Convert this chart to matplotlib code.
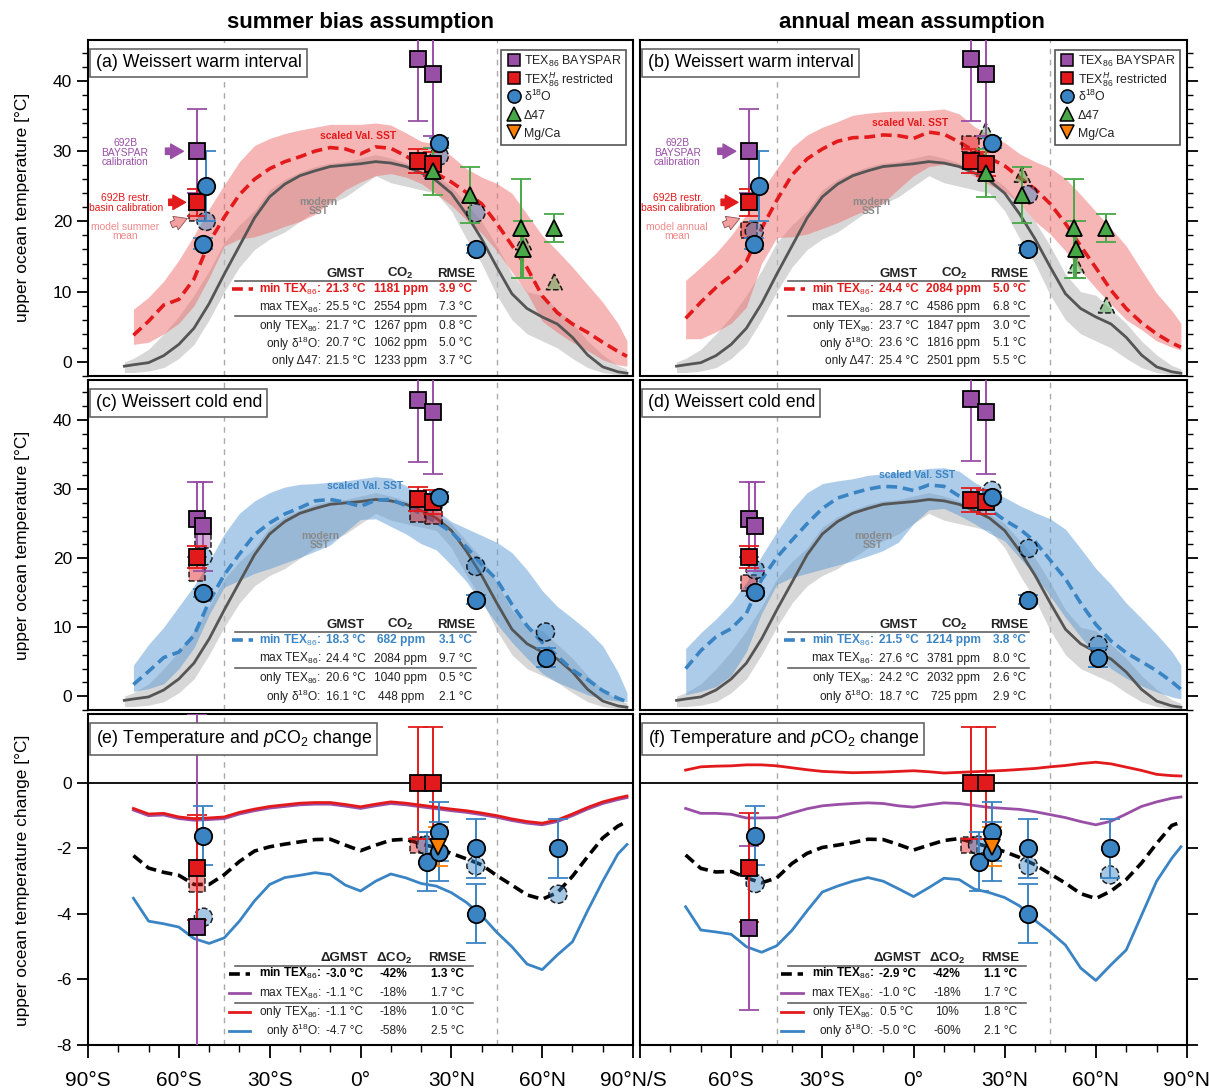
import numpy as np
import matplotlib
matplotlib.use('Agg')
import matplotlib.pyplot as plt
from matplotlib.patches import Rectangle
from matplotlib.ticker import MultipleLocator
from matplotlib.colors import to_rgba

plt.rcParams['font.family'] = ['Liberation Sans', 'DejaVu Sans']
plt.rcParams['mathtext.fontset'] = 'custom'
plt.rcParams['mathtext.rm'] = 'Liberation Sans'
plt.rcParams['mathtext.it'] = 'Liberation Sans:italic'
plt.rcParams['mathtext.bf'] = 'Liberation Sans:bold'
plt.rcParams['axes.unicode_minus'] = False

# ---------------- data ----------------
# modern SST (line and range), same in panels a-d
lat_mod = [-78, -75, -70, -65, -60, -55, -50, -45, -40, -35, -30, -25, -20, -15, -10, -5, 0,
           5, 10, 15, 20, 25, 30, 35, 40, 45, 50, 55, 60, 65, 70, 75, 80, 85, 88]
modern_sst = [-0.6, -0.4, -0.1, 0.9, 2.5, 4.8, 8.3, 12.5, 16.5, 20.5, 23.5, 25.3, 26.5, 27.2, 27.8, 28.0, 28.2,
              28.5, 28.3, 27.8, 26.9, 25.8, 24.0, 21.0, 17.5, 13.5, 9.7, 7.6, 6.4, 5.4, 3.5, 1.0, -0.7, -1.4, -1.6]
modern_lo = [-1.5, -1.5, -1.3, -0.8, 0.5, 2.5, 6.0, 10.0, 13.5, 16.0, 17.5, 18.5, 20.0, 21.5, 22.5, 23.5, 25.0,
             26.5, 25.5, 25.0, 24.5, 24.0, 21.5, 17.5, 14.0, 9.5, 6.0, 4.0, 3.0, 2.0, 0.5, -0.8, -1.5, -1.8, -1.8]
modern_hi = [0.0, 0.5, 1.8, 4.0, 6.5, 9.5, 13.0, 17.0, 19.5, 21.5, 24.5, 26.0, 27.0, 27.8, 28.3, 28.5, 29.0,
             29.5, 29.0, 28.3, 27.5, 26.5, 25.0, 22.5, 20.0, 16.5, 12.5, 10.0, 9.5, 7.5, 5.5, 3.0, 1.0, -0.5, -1.0]

# scaled Valanginian SST (mean and range)
lat_sst = [-75, -70, -65, -60, -55, -50, -45, -40, -35, -30, -25, -20, -15, -10, -5, 0,
           5, 10, 15, 20, 25, 30, 35, 40, 45, 50, 55, 60, 65, 70, 75, 80, 85, 88]
a_mid = [3.8, 5.8, 8.1, 8.9, 11.8, 17.0, 20.6, 23.8, 26.0, 27.5, 28.5, 29.2, 30.0, 30.5, 30.3, 29.6,
         30.6, 30.4, 29.3, 27.9, 26.8, 25.6, 24.1, 22.5, 19.7, 16.6, 13.4, 9.4, 7.0, 5.4, 4.2, 2.8, 1.5, 0.8]
a_hi = [7.5, 9.2, 11.5, 14.5, 18.0, 21.8, 25.2, 28.5, 30.8, 31.8, 32.5, 33.0, 33.4, 33.8, 33.8, 33.8,
        34.0, 33.7, 32.6, 31.4, 31.0, 29.3, 27.5, 26.3, 25.4, 24.0, 21.0, 18.0, 15.8, 13.5, 11.0, 8.5, 5.5, 3.0]
a_lo = [2.5, 2.8, 4.0, 5.5, 8.0, 12.0, 16.5, 17.5, 17.8, 18.5, 19.3, 20.0, 21.0, 22.8, 24.5, 25.6,
        26.5, 26.8, 26.3, 25.4, 23.9, 22.3, 20.2, 18.3, 15.8, 12.8, 9.8, 5.8, 4.2, 2.8, 1.6, 0.3, -0.4, -0.6]
b_mid = [6.2, 8.5, 10.6, 12.3, 14.3, 19.0, 23.0, 26.6, 28.9, 30.3, 31.4, 31.9, 32.0, 32.3, 32.2, 31.8,
         32.7, 32.4, 31.3, 30.0, 29.0, 27.9, 26.2, 24.6, 22.5, 19.7, 16.5, 13.4, 10.2, 7.6, 5.6, 4.0, 2.7, 2.1]
b_hi = [11.6, 13.5, 15.5, 18.0, 21.0, 24.3, 27.5, 30.5, 32.3, 33.4, 34.2, 35.1, 35.4, 35.6, 35.7, 35.7,
        35.8, 36.0, 35.3, 33.5, 32.3, 31.2, 29.6, 28.5, 27.6, 26.1, 23.8, 21.4, 19.0, 16.5, 13.1, 9.8, 7.3, 5.5]
b_lo = [3.3, 3.3, 4.3, 5.5, 7.8, 14.0, 17.7, 17.8, 18.2, 19.0, 19.8, 20.8, 21.7, 22.6, 24.6, 26.5,
        27.8, 28.1, 27.8, 26.4, 25.2, 24.2, 22.5, 20.0, 18.2, 15.8, 13.0, 10.5, 8.2, 6.0, 4.6, 3.0, 2.1, 1.7]
c_mid = [1.7, 3.6, 5.6, 6.4, 8.8, 13.7, 17.6, 20.6, 23.4, 25.1, 26.4, 27.3, 28.3, 28.5, 28.1, 27.5,
         28.4, 28.5, 27.6, 26.4, 25.2, 23.8, 21.6, 19.1, 16.9, 13.3, 10.2, 7.8, 5.8, 3.8, 2.4, 0.8, -0.3, -0.8]
c_hi = [4.5, 7.5, 10.0, 13.0, 16.0, 19.5, 23.5, 26.5, 28.3, 29.5, 30.3, 30.7, 30.8, 31.0, 31.2, 31.5,
        31.8, 31.6, 30.5, 29.0, 27.0, 25.3, 24.3, 23.3, 22.3, 20.8, 18.3, 15.3, 13.0, 11.3, 9.5, 7.3, 3.5, 0.5]
c_lo = [0.7, 1.1, 1.8, 4.0, 7.0, 11.8, 15.8, 16.8, 17.8, 18.5, 19.3, 20.1, 21.0, 21.9, 23.8, 25.6,
        25.7, 24.6, 23.5, 22.1, 21.2, 19.0, 16.6, 13.5, 10.5, 7.8, 5.5, 3.3, 2.0, 1.1, 0.2, -0.4, -0.7, -0.8]
d_mid = [4.0, 6.6, 8.6, 9.8, 12.0, 16.9, 20.1, 22.6, 25.0, 27.2, 28.7, 29.4, 30.0, 30.4, 30.3, 29.8,
         30.6, 30.4, 29.0, 28.0, 27.1, 25.5, 24.2, 22.4, 19.7, 17.0, 13.5, 10.4, 8.0, 6.3, 5.0, 3.7, 2.1, 1.0]
d_hi = [6.9, 9.2, 11.2, 13.5, 16.5, 20.3, 23.8, 27.0, 29.5, 30.8, 31.2, 31.5, 32.0, 32.2, 32.5, 32.7,
        33.0, 33.1, 32.6, 31.0, 29.8, 28.8, 27.6, 26.6, 25.7, 24.2, 21.4, 18.5, 16.2, 13.5, 11.3, 9.0, 6.5, 4.5]
d_lo = [0.2, 0.7, 1.4, 3.0, 6.5, 12.0, 16.2, 17.2, 17.8, 18.4, 19.0, 19.6, 20.3, 21.1, 22.3, 25.0,
        27.0, 27.2, 26.2, 25.0, 23.6, 22.5, 20.0, 17.5, 14.5, 11.4, 8.6, 6.0, 4.0, 2.6, 1.5, 0.6, -0.1, -0.4]

# temperature change curves (warm interval -> cold end)
e_min = [-2.22, -2.60, -2.73, -2.82, -3.10, -3.10, -2.80, -2.40, -2.08, -1.95, -1.87, -1.80, -1.73, -1.72, -1.90, -2.07,
         -1.90, -1.75, -1.72, -1.86, -1.98, -2.15, -2.32, -2.50, -2.83, -3.12, -3.42, -3.55, -3.35, -2.85, -2.25, -1.68, -1.32, -1.18]
e_max = [-0.83, -1.00, -0.98, -1.09, -1.14, -1.12, -1.09, -0.95, -0.85, -0.77, -0.72, -0.67, -0.65, -0.65, -0.71, -0.78,
         -0.70, -0.63, -0.67, -0.73, -0.79, -0.85, -0.90, -0.97, -1.05, -1.15, -1.23, -1.28, -1.18, -1.00, -0.80, -0.63, -0.51, -0.45]
e_tex = [-0.78, -0.95, -0.93, -1.04, -1.09, -1.07, -1.04, -0.90, -0.80, -0.72, -0.67, -0.62, -0.60, -0.60, -0.66, -0.73,
         -0.65, -0.58, -0.62, -0.68, -0.74, -0.80, -0.85, -0.92, -1.00, -1.10, -1.18, -1.23, -1.13, -0.95, -0.75, -0.58, -0.46, -0.40]
e_oxy = [-3.52, -4.22, -4.30, -4.40, -4.75, -4.90, -4.73, -4.22, -3.60, -3.10, -2.89, -2.82, -2.74, -2.80, -3.12, -3.30,
         -3.00, -2.78, -2.90, -3.07, -3.15, -3.35, -3.65, -4.05, -4.56, -5.00, -5.53, -5.70, -5.25, -4.85, -3.90, -3.00, -2.17, -1.88]
f_min = [-2.20, -2.61, -2.72, -2.70, -2.90, -3.05, -2.90, -2.46, -2.15, -1.97, -1.90, -1.82, -1.72, -1.73, -1.88, -2.05,
         -1.90, -1.76, -1.70, -1.83, -1.96, -2.10, -2.28, -2.50, -2.78, -3.06, -3.38, -3.53, -3.30, -2.95, -2.45, -1.85, -1.30, -1.20]
f_max = [-0.78, -0.93, -0.93, -0.96, -1.07, -1.07, -1.06, -0.92, -0.79, -0.70, -0.66, -0.63, -0.61, -0.63, -0.70, -0.74,
         -0.67, -0.61, -0.63, -0.69, -0.75, -0.78, -0.81, -0.88, -0.97, -1.06, -1.18, -1.28, -1.17, -0.95, -0.72, -0.58, -0.47, -0.43]
f_tex = [0.39, 0.49, 0.51, 0.52, 0.55, 0.55, 0.52, 0.46, 0.40, 0.35, 0.33, 0.31, 0.32, 0.33, 0.35, 0.37,
         0.34, 0.30, 0.32, 0.34, 0.36, 0.38, 0.41, 0.44, 0.49, 0.53, 0.59, 0.63, 0.58, 0.48, 0.38, 0.26, 0.22, 0.21]
f_oxy = [-3.78, -4.49, -4.55, -4.62, -5.00, -5.17, -4.97, -4.50, -3.90, -3.33, -3.15, -3.00, -2.89, -3.00, -3.23, -3.47,
         -3.20, -2.91, -2.95, -3.24, -3.35, -3.50, -3.76, -4.20, -4.55, -4.95, -5.65, -6.03, -5.55, -5.10, -4.05, -3.00, -2.30, -1.95]

# proxy data: (lat, value, error); model-equivalent points: (lat, value)
a_bay = [(-54.0, 30.0, 6.0), (18.9, 43.1, 8.8), (24.1, 41.0, 8.9)]
a_res = [(-54.0, 22.7, 1.9), (18.9, 28.6, 1.7), (24.1, 28.1, 1.7)]
a_d18 = [(-51.0, 25.0, 5.0), (-51.9, 16.8, 0.8), (26.0, 31.2, 0.7), (38.1, 16.1, 0.6)]
a_d47 = [(23.9, 27.1, 3.4), (36.1, 23.8, 4.0), (53.1, 19.0, 7.0), (53.8, 16.0, 4.0), (64.0, 19.0, 2.0)]
a_res_m = [(-54.0, 21.2)]
a_d18_m = [(-51.0, 20.0), (26.0, 29.3), (38.1, 21.2)]
a_d47_m = [(53.8, 17.1), (64.0, 11.4)]

b_bay = [(-54.1, 30.0, 6.0), (18.8, 43.1, 8.8), (23.8, 41.0, 8.9)]
b_res = [(-54.1, 22.7, 1.9), (18.8, 28.6, 1.7), (23.8, 28.1, 1.7)]
b_d18 = [(-50.8, 25.0, 5.0), (-52.4, 16.8, 0.8), (25.8, 31.2, 0.7), (37.8, 16.1, 0.6)]
b_d47 = [(23.8, 26.9, 3.4), (35.8, 23.8, 4.0), (52.9, 19.0, 7.0), (53.5, 16.0, 4.0), (63.5, 19.0, 2.0)]
b_res_m = [(-54.1, 18.8), (18.8, 31.0)]
b_d18_m = [(-52.4, 18.6), (37.8, 23.8)]
b_d47_m = [(23.8, 32.9), (35.8, 26.7), (53.5, 13.8), (63.5, 8.1)]

c_bay = [(-54.0, 25.6, 5.5), (-52.0, 24.6, 6.5), (18.9, 42.9, 8.9), (24.1, 41.1, 8.9)]
c_res = [(-54.0, 20.2, 1.6), (18.9, 28.6, 1.7), (24.1, 28.1, 1.7)]
c_d18 = [(-52.0, 15.0, 0.6), (26.0, 28.9, 0.7), (38.1, 14.0, 0.6), (61.1, 5.6, 1.4)]
c_bay_m = [(-52.0, 22.6)]
c_res_m = [(-54.0, 17.9), (18.9, 26.4), (24.1, 26.2)]
c_d18_m = [(-52.0, 20.2), (38.1, 18.8), (61.1, 9.3)]

d_bay = [(-54.1, 25.6, 5.5), (-52.1, 24.6, 6.5), (18.8, 43.0, 8.9), (23.8, 41.1, 8.9)]
d_res = [(-54.1, 20.2, 1.6), (18.8, 28.4, 1.7), (23.8, 28.1, 1.7)]
d_d18 = [(-52.1, 15.1, 0.6), (25.8, 28.9, 0.7), (37.8, 14.0, 0.6), (60.8, 5.6, 1.4)]
d_res_m = [(-54.1, 16.4)]
d_d18_m = [(-52.1, 18.3), (25.8, 29.8), (37.8, 21.4), (60.8, 7.4)]

e_bay = [(-54.0, -4.41, 6.5)]
e_res = [(-54.0, -2.59, 1.6), (18.9, 0.0, 1.7), (24.1, 0.0, 1.7)]
e_d18 = [(-51.9, -1.61, 0.9), (21.9, -2.41, 0.9), (26.0, -1.49, 0.9), (26.0, -2.10, 0.9),
         (38.1, -2.0, 0.9), (38.1, -4.0, 0.9), (65.2, -2.0, 0.9)]
e_mgca = [(25.7, -1.95, 0.6)]
e_res_m = [(-54.0, -3.07), (18.9, -1.90)]
e_d18_m = [(-51.9, -4.10), (21.5, -1.90), (38.1, -2.53), (65.2, -3.40)]

f_bay = [(-54.1, -4.42, 2.5)]
f_res = [(-54.1, -2.59, 1.66), (18.8, 0.0, 1.7), (23.8, 0.0, 1.7)]
f_d18 = [(-52.1, -1.61, 0.9), (21.7, -2.41, 0.9), (25.8, -1.49, 0.9), (25.8, -2.10, 0.9),
         (37.8, -2.0, 0.9), (37.8, -4.0, 0.9), (64.6, -2.0, 0.9)]
f_mgca = [(25.8, -1.95, 0.6)]
f_res_m = [(18.3, -1.90)]
f_d18_m = [(-52.1, -3.07), (21.1, -1.90), (37.8, -2.53), (64.6, -2.81)]

# tables
tab_a = [('min TEX$_{86}$:', '21.3 °C', '1181 ppm', '3.9 °C'), ('max TEX$_{86}$:', '25.5 °C', '2554 ppm', '7.3 °C'),
         ('only TEX$_{86}$:', '21.7 °C', '1267 ppm', '0.8 °C'), ('only δ$^{18}$O:', '20.7 °C', '1062 ppm', '5.0 °C'),
         ('only Δ47:', '21.5 °C', '1233 ppm', '3.7 °C')]
tab_b = [('min TEX$_{86}$:', '24.4 °C', '2084 ppm', '5.0 °C'), ('max TEX$_{86}$:', '28.7 °C', '4586 ppm', '6.8 °C'),
         ('only TEX$_{86}$:', '23.7 °C', '1847 ppm', '3.0 °C'), ('only δ$^{18}$O:', '23.6 °C', '1816 ppm', '5.1 °C'),
         ('only Δ47:', '25.4 °C', '2501 ppm', '5.5 °C')]
tab_c = [('min TEX$_{86}$:', '18.3 °C', '682 ppm', '3.1 °C'), ('max TEX$_{86}$:', '24.4 °C', '2084 ppm', '9.7 °C'),
         ('only TEX$_{86}$:', '20.6 °C', '1040 ppm', '0.5 °C'), ('only δ$^{18}$O:', '16.1 °C', '448 ppm', '2.1 °C')]
tab_d = [('min TEX$_{86}$:', '21.5 °C', '1214 ppm', '3.8 °C'), ('max TEX$_{86}$:', '27.6 °C', '3781 ppm', '8.0 °C'),
         ('only TEX$_{86}$:', '24.2 °C', '2032 ppm', '2.6 °C'), ('only δ$^{18}$O:', '18.7 °C', '725 ppm', '2.9 °C')]
tab_e = [('min TEX$_{86}$:', '-3.0 °C', '-42%', '1.3 °C'), ('max TEX$_{86}$:', '-1.1 °C', '-18%', '1.7 °C'),
         ('only TEX$_{86}$:', '-1.1 °C', '-18%', '1.0 °C'), ('only δ$^{18}$O:', '-4.7 °C', '-58%', '2.5 °C')]
tab_f = [('min TEX$_{86}$:', '-2.9 °C', '-42%', '1.1 °C'), ('max TEX$_{86}$:', '-1.0 °C', '-18%', '1.7 °C'),
         ('only TEX$_{86}$:', '0.5 °C', '10%', '1.8 °C'), ('only δ$^{18}$O:', '-5.0 °C', '-60%', '2.1 °C')]

lat_ticks = [-90, -60, -30, 0, 30, 60, 90]
lab_left = ['90°S', '60°S', '30°S', '0°', '30°N', '60°N', '90°N/S']
lab_right = ['', '60°S', '30°S', '0°', '30°N', '60°N', '90°N']

PURPLE = '#9a4fa6'
RED = '#e31a1c'
BLUE = '#3a84c4'
GREEN = '#48a848'
ORANGE = '#ff7f00'
TXT = '#222222'

leg_items = [('s', PURPLE, 'TEX$_{86}$ BAYSPAR'), ('s', RED, 'TEX$^{H}_{86}$ restricted'),
             ('o', BLUE, 'δ$^{18}$O'), ('^', GREEN, 'Δ47'), ('v', ORANGE, 'Mg/Ca')]


def setup_axes(ax, row, col):
    for s in ax.spines.values():
        s.set_linewidth(1.5)
    ax.set_xlim(-90, 90)
    if row < 2:
        ax.set_ylim(-2.0, 45.8)
        ax.yaxis.set_major_locator(MultipleLocator(10))
        ax.yaxis.set_minor_locator(MultipleLocator(2))
        ax.tick_params(axis='x', which='both', bottom=False, labelbottom=False)
    else:
        ax.set_ylim(-8, 2.1)
        ax.set_yticks([-8, -6, -4, -2, 0])
        ax.set_xticks(lat_ticks)
        ax.set_xticklabels(lab_left if col == 0 else lab_right)
        ax.xaxis.set_minor_locator(MultipleLocator(10))
        ax.tick_params(axis='x', which='major', direction='out', length=9, width=1.3, labelsize=15, pad=10)
        ax.tick_params(axis='x', which='minor', direction='out', length=5, width=1.0)
    if col == 0:
        ax.tick_params(axis='y', which='both', direction='out', left=True, right=False, labelsize=12.5)
    else:
        ax.tick_params(axis='y', which='both', direction='out', left=False, right=True,
                       labelleft=False, labelright=False)
    ax.tick_params(axis='y', which='major', length=8, width=1.3)
    ax.tick_params(axis='y', which='minor', length=4, width=1.0)
    for x in (-45, 45):
        ax.axvline(x, color='#aaaaaa', ls=(0, (4, 4)), lw=1, zorder=0.5)


def panel_title(ax, text):
    ax.text(0.014, 0.957, text, transform=ax.transAxes, fontsize=12.8, va='top', ha='left', zorder=20,
            bbox=dict(boxstyle='square,pad=0.3', fc='white', ec='#666666', lw=1.2))


def draw_sst(ax, mid, lo, hi, color, fill):
    ax.fill_between(lat_mod, modern_lo, modern_hi, color='#bdbdbd', alpha=0.6, lw=0, zorder=1)
    ax.fill_between(lat_sst, lo, hi, color=fill, alpha=0.5, lw=0, zorder=2)
    ax.plot(lat_mod, modern_sst, color='#555555', lw=2, zorder=3)
    ax.plot(lat_sst, mid, color=color, lw=2.6, ls=(0, (3, 1.6)), zorder=3)


def add_proxy(ax, pts, marker, color, ms=12):
    lat = [p[0] for p in pts]
    val = [p[1] for p in pts]
    err = [p[2] for p in pts]
    ax.errorbar(lat, val, yerr=err, fmt=marker, ms=ms, mfc=color, mec='k', mew=1.3, ecolor=color,
                elinewidth=1.4, capsize=7, capthick=1.4, zorder=6)


def add_model(ax, pts, marker, color, s=140):
    lat = [p[0] for p in pts]
    val = [p[1] for p in pts]
    ax.scatter(lat, val, s=s, marker=marker, facecolors=[to_rgba(color, 0.45)],
               edgecolors=[(0, 0, 0, 0.85)], linewidths=1.1, linestyles='--', zorder=5)


def draw_table(ax, head, rows, ys, head_y, rules, cols, styles, hi_color):
    xl, x0, x1, r0, r1 = cols['label'], cols['l0'], cols['l1'], cols['r0'], cols['r1']
    for h, xc in zip(head, cols['c']):
        ax.text(xc, head_y, h, transform=ax.transAxes, ha='center', va='center', fontsize=9.5,
                fontweight='bold', color=TXT, zorder=7)
    for i, (row, y) in enumerate(zip(rows, ys)):
        col = hi_color if i == 0 else TXT
        fw = 'bold' if i == 0 else 'normal'
        ax.text(xl, y, row[0], transform=ax.transAxes, ha='right', va='center', fontsize=8.6,
                color=col, fontweight=fw, zorder=7)
        for v, xc in zip(row[1:], cols['c']):
            ax.text(xc, y, v, transform=ax.transAxes, ha='center', va='center', fontsize=8.6,
                    color=col, fontweight=fw, zorder=7)
        if styles[i] is not None:
            ax.plot([x0, x1], [y, y], transform=ax.transAxes, zorder=7, **styles[i])
    for r in rules:
        ax.plot([r0, r1], [r, r], transform=ax.transAxes, color='#555555', lw=1.1, zorder=7)


def add_legend(ax):
    ax.add_patch(Rectangle((0.758, 0.688), 0.229, 0.282, transform=ax.transAxes, fc='white',
                           ec='#555555', lw=1.2, zorder=20))
    for k, (m, c, lab) in enumerate(leg_items):
        y = 0.940 - k * 0.0535
        ax.plot([0.781], [y], transform=ax.transAxes, ls='', marker=m, ms=9.5 if m != 's' else 9,
                mfc=c, mec='k', mew=1.1, zorder=21)
        ax.text(0.800, y - 0.015, lab, transform=ax.transAxes, ha='left', va='baseline',
                fontsize=8.9, color=TXT, zorder=21)


def side_notes(ax, model_text):
    ax.text(0.068, 0.665, '692B\nBAYSPAR\ncalibration', transform=ax.transAxes, color=PURPLE,
            fontsize=7.4, ha='center', va='center', linespacing=0.95)
    ax.text(0.07, 0.515, '692B restr.\nbasin calibration', transform=ax.transAxes, color=RED,
            fontsize=7.4, ha='center', va='center', linespacing=0.95)
    ax.text(0.068, 0.43, model_text, transform=ax.transAxes, color='#f08a8a',
            fontsize=7.4, ha='center', va='center', linespacing=0.95)
    arrow = 'simple,head_length=0.7,head_width=0.8,tail_width=0.35'
    ax.annotate('', xy=(0.180, 0.669), xytext=(0.137, 0.669), xycoords='axes fraction',
                arrowprops=dict(arrowstyle=arrow, fc=PURPLE, ec=PURPLE, mutation_scale=13))
    ax.annotate('', xy=(0.184, 0.517), xytext=(0.143, 0.517), xycoords='axes fraction',
                arrowprops=dict(arrowstyle=arrow, fc=RED, ec=RED, mutation_scale=13))
    ax.annotate('', xy=(0.187, 0.472), xytext=(0.148, 0.447), xycoords='axes fraction',
                arrowprops=dict(arrowstyle=arrow, fc='#f4a0a0', ec='#8a5050', lw=0.6, mutation_scale=13))


fig = plt.figure(figsize=(12.09, 10.88), dpi=100)
ax_a = fig.add_axes([0.0728, 0.6544, 0.4508, 0.3088])
ax_b = fig.add_axes([0.5294, 0.6544, 0.4524, 0.3088])
ax_c = fig.add_axes([0.0728, 0.3474, 0.4508, 0.3033])
ax_d = fig.add_axes([0.5294, 0.3474, 0.4524, 0.3033])
ax_e = fig.add_axes([0.0728, 0.0395, 0.4508, 0.3042])
ax_f = fig.add_axes([0.5294, 0.0395, 0.4524, 0.3042])

for ax, r, c in [(ax_a, 0, 0), (ax_b, 0, 1), (ax_c, 1, 0), (ax_d, 1, 1), (ax_e, 2, 0), (ax_f, 2, 1)]:
    setup_axes(ax, r, c)

cols5 = dict(label=0.428, c=[0.473, 0.574, 0.675], l0=0.264, l1=0.302, r0=0.27, r1=0.712)
cols_e = dict(label=0.428, c=[0.470, 0.561, 0.659], l0=0.258, l1=0.298, r0=0.27, r1=0.706)
dash_red = dict(color=RED, lw=2.6, ls=(0, (3, 1.6)))
dash_blue = dict(color=BLUE, lw=2.6, ls=(0, (3, 1.6)))
dash_blk = dict(color='k', lw=2.6, ls=(0, (3, 1.6)))

# ---- (a) and (b): warm interval ----
for ax, mid, lo, hi, bay, res, d18, d47, res_m, d18_m, d47_m, tab, ttl, note, stxt in [
        (ax_a, a_mid, a_lo, a_hi, a_bay, a_res, a_d18, a_d47, a_res_m, a_d18_m, a_d47_m, tab_a,
         '(a) Weissert warm interval', 'model summer\nmean', (-0.9, 32.1)),
        (ax_b, b_mid, b_lo, b_hi, b_bay, b_res, b_d18, b_d47, b_res_m, b_d18_m, b_d47_m, tab_b,
         '(b) Weissert warm interval', 'model annual\nmean', (-1.0, 34.0))]:
    draw_sst(ax, mid, lo, hi, RED, '#f06e6e')
    ax.text(stxt[0], stxt[1], 'scaled Val. SST', color=RED, fontsize=7.5, fontweight='bold',
            ha='center', va='center', zorder=4)
    ax.text(-13.8, 22.1, 'modern\nSST', color='#8a8a8a', fontsize=7.5, fontweight='bold',
            ha='center', va='center', linespacing=0.9, zorder=4)
    add_model(ax, res_m, 's', RED)
    add_model(ax, d18_m, 'o', BLUE, s=170)
    add_model(ax, d47_m, '^', GREEN, s=130)
    add_proxy(ax, bay, 's', PURPLE)
    add_proxy(ax, res, 's', RED)
    add_proxy(ax, d47, '^', GREEN, ms=11)
    add_proxy(ax, d18, 'o', BLUE, ms=12.5)
    panel_title(ax, ttl)
    add_legend(ax)
    side_notes(ax, note)
    draw_table(ax, ['GMST', 'CO$_\\mathbf{2}$', 'RMSE'], tab, [0.258, 0.205, 0.150, 0.097, 0.045], 0.305,
               [0.282, 0.178], cols5, [dash_red, None, None, None, None], RED)

# ---- (c) and (d): cold end ----
for ax, mid, lo, hi, bay, res, d18, bay_m, res_m, d18_m, tab, ttl, stxt in [
        (ax_c, c_mid, c_lo, c_hi, c_bay, c_res, c_d18, c_bay_m, c_res_m, c_d18_m, tab_c,
         '(c) Weissert cold end', (1.5, 30.5)),
        (ax_d, d_mid, d_lo, d_hi, d_bay, d_res, d_d18, [], d_res_m, d_d18_m, tab_d,
         '(d) Weissert cold end', (1.1, 32.1))]:
    draw_sst(ax, mid, lo, hi, BLUE, '#5b9bd5')
    ax.text(stxt[0], stxt[1], 'scaled Val. SST', color=BLUE, fontsize=7.5, fontweight='bold',
            ha='center', va='center', zorder=4)
    ax.text(-13.3, 22.6, 'modern\nSST', color='#8a8a8a', fontsize=7.5, fontweight='bold',
            ha='center', va='center', linespacing=0.9, zorder=4)
    if bay_m:
        add_model(ax, bay_m, 's', PURPLE)
    add_model(ax, res_m, 's', RED)
    add_model(ax, d18_m, 'o', BLUE, s=170)
    add_proxy(ax, bay, 's', PURPLE)
    add_proxy(ax, res, 's', RED)
    add_proxy(ax, d18, 'o', BLUE, ms=12.5)
    panel_title(ax, ttl)
    draw_table(ax, ['GMST', 'CO$_\\mathbf{2}$', 'RMSE'], tab, [0.212, 0.155, 0.097, 0.039], 0.258,
               [0.236, 0.127], cols5, [dash_blue, None, None, None], BLUE)

# ---- (e) and (f): change ----
for ax, vmin, vmax, vtex, voxy, bay, res, d18, mgca, res_m, d18_m, tab, ttl in [
        (ax_e, e_min, e_max, e_tex, e_oxy, e_bay, e_res, e_d18, e_mgca, e_res_m, e_d18_m, tab_e,
         '(e) Temperature and $p$CO$_2$ change'),
        (ax_f, f_min, f_max, f_tex, f_oxy, f_bay, f_res, f_d18, f_mgca, f_res_m, f_d18_m, tab_f,
         '(f) Temperature and $p$CO$_2$ change')]:
    ax.axhline(0, color='k', lw=1.3, zorder=1)
    ax.plot(lat_sst, vmax, color=PURPLE, lw=2, zorder=3)
    ax.plot(lat_sst, vtex, color=RED, lw=2, zorder=3)
    ax.plot(lat_sst, voxy, color=BLUE, lw=2, zorder=3)
    ax.plot(lat_sst, vmin, zorder=3, **dash_blk)
    add_model(ax, res_m, 's', RED)
    add_model(ax, d18_m, 'o', BLUE, s=170)
    add_proxy(ax, bay, 's', PURPLE)
    add_proxy(ax, res, 's', RED)
    add_proxy(ax, d18, 'o', BLUE, ms=12.5)
    add_proxy(ax, mgca, 'v', ORANGE, ms=11)
    panel_title(ax, ttl)
    draw_table(ax, ['ΔGMST', 'ΔCO$_\\mathbf{2}$', 'RMSE'], tab, [0.215, 0.157, 0.100, 0.042], 0.263,
               [0.239, 0.127], cols_e,
               [dash_blk, dict(color=PURPLE, lw=2), dict(color=RED, lw=2), dict(color=BLUE, lw=2)], 'k')

fig.text(0.298, 0.979, 'summer bias assumption', fontsize=16, fontweight='bold', ha='center', va='center')
fig.text(0.754, 0.979, 'annual mean assumption', fontsize=16, fontweight='bold', ha='center', va='center')
fig.text(0.019, 0.809, 'upper ocean temperature [°C]', fontsize=12.5, rotation=90, ha='center', va='center')
fig.text(0.019, 0.499, 'upper ocean temperature [°C]', fontsize=12.5, rotation=90, ha='center', va='center')
fig.text(0.019, 0.191, 'upper ocean temperature change [°C]', fontsize=12.5, rotation=90, ha='center', va='center')

fig.savefig('out.png', dpi=100)
